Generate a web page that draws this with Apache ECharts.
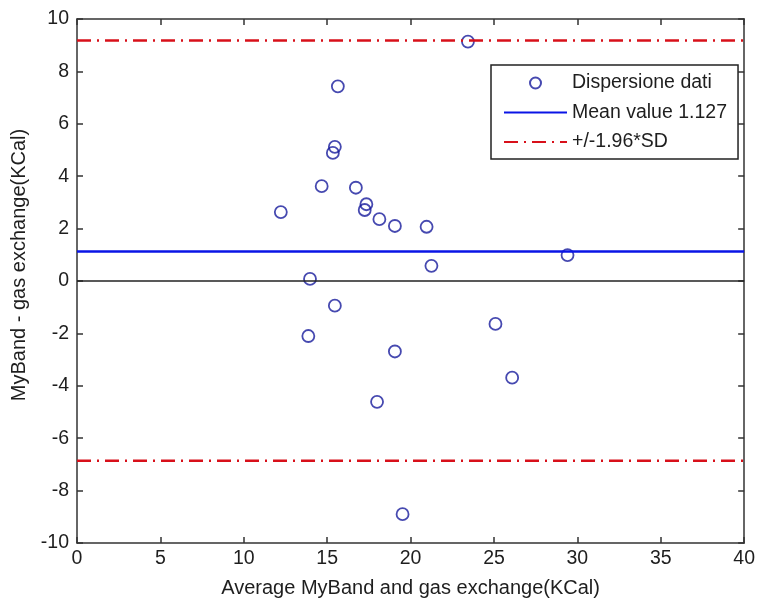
<!DOCTYPE html>
<html>
<head>
<meta charset="utf-8">
<script src="https://cdn.jsdelivr.net/npm/echarts@6/dist/echarts.min.js"></script>
<style>
  html, body { margin: 0; padding: 0; background: #fff; }
  #chart { width: 758px; height: 603px; }
</style>
</head>
<body>
<div id="chart"></div>
<script>
// Bland-Altman data
const avgValues = [12.22, 13.87, 13.97, 14.67, 15.34, 15.46, 15.46, 15.64, 16.72, 17.25, 17.35,
  17.99, 18.13, 19.06, 19.06, 19.52, 20.96, 21.25, 23.44, 25.09, 26.09, 29.41]
const diffValues = [2.63, -2.10, 0.08, 3.62, 4.89, 5.12, -0.94, 7.43, 3.56, 2.71, 2.93,
  -4.61, 2.36, 2.10, -2.69, -8.90, 2.07, 0.58, 9.14, -1.64, -3.69, 0.99]
const meanValue = 1.127
const upperLimit = 9.18
const lowerLimit = -6.86
const xRange = [0, 40]
const yRange = [-10, 10]
const legendNames = ['Dispersione dati', 'Mean value 1.127', '+/-1.96*SD']

const font = "'Liberation Sans', Arial, sans-serif"
const ink = '#1e1e1e'

const chart = echarts.init(document.getElementById('chart'))

const hline = v => [[xRange[0], v], [xRange[1], v]]

const axisCommon = {
  type: 'value',
  axisLine: { show: true, onZero: false, lineStyle: { color: '#333', width: 1.5 } },
  axisTick: { show: true, inside: true, length: 6, lineStyle: { color: '#333', width: 1.5 } },
  splitLine: { show: false }
}

chart.setOption({
  animation: false,
  backgroundColor: '#ffffff',
  grid: { left: 77, right: 11, top: 19, bottom: 58 },
  legend: {
    // the line entries only need their stroke, so their dot is hidden
    data: [
      { name: legendNames[0] },
      { name: legendNames[1], itemStyle: { opacity: 0 } },
      { name: legendNames[2], itemStyle: { opacity: 0 } }
    ],
    orient: 'vertical',
    left: 491,
    top: 65,
    itemWidth: 63,
    itemHeight: 11,
    itemGap: 9.5,
    padding: [8, 11, 7, 12],
    borderColor: '#222',
    borderWidth: 1.5,
    borderRadius: 0,
    backgroundColor: '#fff',
    selectedMode: false,
    textStyle: { fontFamily: font, fontSize: 19.5, color: ink }
  },
  xAxis: [
    Object.assign({}, axisCommon, {
      min: xRange[0], max: xRange[1], interval: 5,
      position: 'bottom',
      name: 'Average MyBand and gas exchange(KCal)',
      nameLocation: 'middle',
      nameGap: 35,
      nameTextStyle: { fontFamily: font, fontSize: 20, color: ink },
      axisLabel: { margin: 6, fontFamily: font, fontSize: 19.5, color: ink }
    }),
    Object.assign({}, axisCommon, {
      min: xRange[0], max: xRange[1], interval: 5,
      position: 'top',
      axisLabel: { show: false }
    })
  ],
  yAxis: [
    Object.assign({}, axisCommon, {
      min: yRange[0], max: yRange[1], interval: 2,
      position: 'left',
      name: 'MyBand - gas exchange(KCal)',
      nameLocation: 'middle',
      nameGap: 47,
      nameTextStyle: { fontFamily: font, fontSize: 20, color: ink, padding: [0, 0, 0, 32] },
      axisLabel: { margin: 8, fontFamily: font, fontSize: 19.5, color: ink }
    }),
    Object.assign({}, axisCommon, {
      min: yRange[0], max: yRange[1], interval: 2,
      position: 'right',
      axisLabel: { show: false }
    })
  ],
  series: [
    {
      name: 'zero',
      type: 'line',
      data: hline(0),
      symbol: 'none',
      silent: true,
      lineStyle: { color: '#222', width: 1.5 }
    },
    {
      name: legendNames[1],
      type: 'line',
      data: hline(meanValue),
      symbol: 'none',
      silent: true,
      color: '#0a14e6',
      lineStyle: { color: '#0a14e6', width: 2.5 }
    },
    {
      name: legendNames[2],
      type: 'line',
      data: hline(upperLimit),
      symbol: 'none',
      silent: true,
      color: '#d8101a',
      lineStyle: { color: '#d8101a', width: 2.5, type: [14, 6, 2, 6] }
    },
    {
      name: legendNames[2],
      type: 'line',
      data: hline(lowerLimit),
      symbol: 'none',
      silent: true,
      color: '#d8101a',
      lineStyle: { color: '#d8101a', width: 2.5, type: [14, 6, 2, 6] }
    },
    {
      name: legendNames[0],
      type: 'scatter',
      data: avgValues.map((x, i) => [x, diffValues[i]]),
      symbol: 'circle',
      symbolSize: 12,
      silent: true,
      itemStyle: { color: 'rgba(0,0,0,0)', borderColor: '#181c9c', borderWidth: 1.8 }
    }
  ]
})
</script>
</body>
</html>
